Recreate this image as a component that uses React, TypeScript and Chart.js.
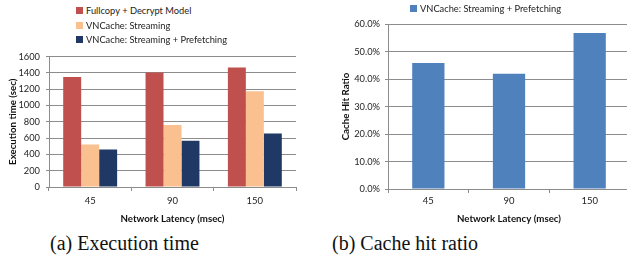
import React, { useEffect, useRef } from "react";
import { Chart, registerables } from "chart.js";

Chart.register(...registerables);

const latencies = ["45", "90", "150"];
const fullcopyTimes = [1350, 1405, 1465];
const streamingTimes = [520, 762, 1175];
const prefetchTimes = [460, 568, 655];
const hitRatios = [45.8, 41.9, 56.7];

const seriesNames = [
  "Fullcopy + Decrypt Model",
  "VNCache: Streaming",
  "VNCache: Streaming + Prefetching",
];
const colors = ["#C0504D", "#FAC090", "#1F3864"];
const blue = "#4F81BD";

const FONT = "Lato, 'Open Sans', sans-serif";
const GRID = "#8c8c8c";

function fixWidth(w: number) {
  return (s: any) => {
    s.width = w;
  };
}
function fixHeight(h: number) {
  return (s: any) => {
    s.height = h;
  };
}

function LeftChart() {
  const ref = useRef<HTMLCanvasElement>(null);
  useEffect(() => {
    const chart = new Chart(ref.current!, {
      type: "bar",
      data: {
        labels: latencies,
        datasets: [fullcopyTimes, streamingTimes, prefetchTimes].map((d, i) => ({
          label: seriesNames[i],
          data: d,
          backgroundColor: colors[i],
          categoryPercentage: 0.655,
          barPercentage: 1,
        })),
      },
      options: {
        responsive: false,
        animation: false,
        layout: { padding: { top: 10, right: 14, left: 0, bottom: 0 } },
        plugins: { legend: { display: false }, tooltip: { enabled: false } },
        scales: {
          x: {
            afterFit: fixHeight(38),
            grid: {
              drawOnChartArea: false,
              drawTicks: true,
              tickLength: 4,
              color: GRID,
              offset: true,
            },
            border: { display: true, color: GRID },
            ticks: { color: "#222", font: { family: FONT, size: 9.5 }, padding: 4 },
            title: {
              display: true,
              text: "Network Latency (msec)",
              color: "#111",
              font: { family: FONT, size: 9.7, weight: "bold" },
              padding: { top: 6, bottom: 0 },
            },
          },
          y: {
            min: 0,
            max: 1600,
            afterFit: fixWidth(49),
            grid: { color: GRID, drawTicks: true, tickLength: 3 },
            border: { display: true, color: GRID },
            ticks: {
              stepSize: 200,
              color: "#222",
              font: { family: FONT, size: 9.3 },
              padding: 6,
              callback: (v: any) => String(v),
            },
            title: {
              display: true,
              text: "Execution time (sec)",
              color: "#111",
              font: { family: FONT, size: 9.7, weight: "bold" },
              padding: { top: 7, bottom: 0 },
            },
          },
        },
      },
    });
    return () => chart.destroy();
  }, []);
  return <canvas ref={ref} width={310} height={180} style={{ position: "absolute", left: 0, top: 45 }} />;
}

function RightChart() {
  const ref = useRef<HTMLCanvasElement>(null);
  useEffect(() => {
    const chart = new Chart(ref.current!, {
      type: "bar",
      data: {
        labels: latencies,
        datasets: [
          {
            label: seriesNames[2],
            data: hitRatios,
            backgroundColor: blue,
            categoryPercentage: 0.4,
            barPercentage: 1,
          },
        ],
      },
      options: {
        responsive: false,
        animation: false,
        layout: { padding: { top: 24, right: 0, left: 0, bottom: 0 } },
        plugins: { legend: { display: false }, tooltip: { enabled: false } },
        scales: {
          x: {
            afterFit: fixHeight(36),
            grid: {
              drawOnChartArea: false,
              drawTicks: true,
              tickLength: 4,
              color: GRID,
              offset: true,
            },
            border: { display: true, color: GRID },
            ticks: { color: "#222", font: { family: FONT, size: 9.5 }, padding: 2 },
            title: {
              display: true,
              text: "Network Latency (msec)",
              color: "#111",
              font: { family: FONT, size: 9.7, weight: "bold" },
              padding: { top: 4, bottom: 0 },
            },
          },
          y: {
            min: 0,
            max: 60,
            afterFit: fixWidth(78),
            grid: { color: GRID, drawTicks: true, tickLength: 3 },
            border: { display: true, color: GRID },
            ticks: {
              stepSize: 10,
              color: "#222",
              font: { family: FONT, size: 9.3 },
              padding: 5,
              callback: (v: any) => Number(v).toFixed(1) + "%",
            },
            title: {
              display: true,
              text: "Cache Hit Ratio",
              color: "#111",
              font: { family: FONT, size: 9.7, weight: "bold" },
              padding: { top: 30, bottom: 0 },
            },
          },
        },
      },
    });
    return () => chart.destroy();
  }, []);
  return <canvas ref={ref} width={320} height={225} style={{ position: "absolute", left: 310, top: 0 }} />;
}

function LegendItem({ color, text, x, y }: { color: string; text: string; x: number; y: number }) {
  return (
    <div
      style={{
        position: "absolute",
        left: x,
        top: y - 7,
        height: 14,
        display: "flex",
        alignItems: "center",
        whiteSpace: "nowrap",
        font: `9.3px ${FONT}`,
        color: "#222",
      }}
    >
      <span style={{ display: "inline-block", width: 7, height: 7, background: color, marginRight: 3 }} />
      {text}
    </div>
  );
}

const captionStyle: React.CSSProperties = {
  position: "absolute",
  top: 232,
  font: "20px 'Liberation Serif', serif",
  color: "#111",
  whiteSpace: "nowrap",
};

export default function App() {
  useEffect(() => {
    document.body.style.margin = "0";
  }, []);
  return (
    <div
      style={{
        position: "absolute",
        left: 0,
        top: 0,
        width: 627,
        height: 269,
        overflow: "hidden",
        background: "#fff",
      }}
    >
      <LeftChart />
      <RightChart />
      <LegendItem color={colors[0]} text={seriesNames[0]} x={76} y={10} />
      <LegendItem color={colors[1]} text={seriesNames[1]} x={76} y={25} />
      <LegendItem color={colors[2]} text={seriesNames[2]} x={76} y={39} />
      <LegendItem color={blue} text={seriesNames[2]} x={410} y={8} />
      <div style={{ ...captionStyle, left: 50 }}>(a) Execution time</div>
      <div style={{ ...captionStyle, left: 332 }}>(b) Cache hit ratio</div>
    </div>
  );
}
